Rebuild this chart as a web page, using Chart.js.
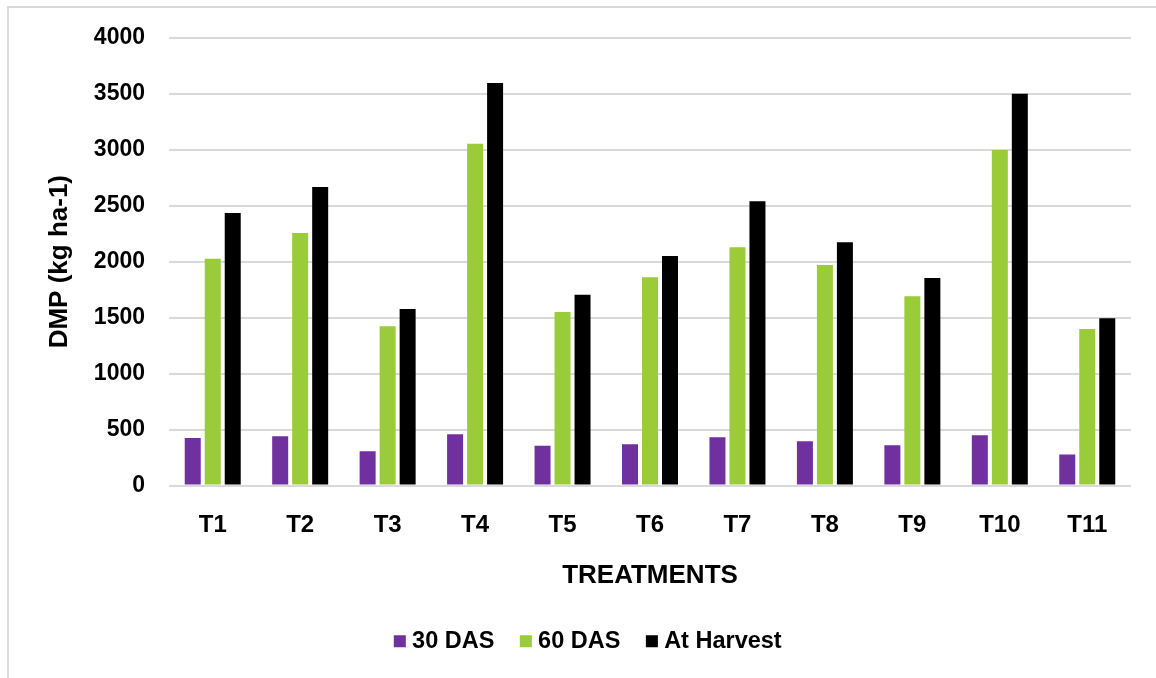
<!DOCTYPE html>
<html><head><meta charset="utf-8">
<script src="https://cdn.jsdelivr.net/npm/chart.js@4.4.1/dist/chart.umd.min.js"></script>
<style>
html,body{margin:0;padding:0;background:#fff;overflow:hidden;}
#frame{position:absolute;left:7px;top:6px;width:1200px;height:720px;border:2px solid #d9d9d9;box-sizing:border-box;}
#wrap{position:absolute;left:0;top:0;width:1156px;height:678px;}
</style></head>
<body>
<div id="frame"></div>
<div id="wrap"><canvas id="c" width="1156" height="678"></canvas></div>
<script>
const categories = ['T1','T2','T3','T4','T5','T6','T7','T8','T9','T10','T11'];
const das30 = [425, 440, 305, 458, 356, 368, 431, 395, 359, 449, 278];
const das60 = [2025, 2256, 1423, 3054, 1551, 1861, 2129, 1971, 1691, 2997, 1399];
const harvest = [2435, 2667, 1578, 3596, 1705, 2051, 2539, 2173, 1854, 3500, 1495];
const yTicks = [0, 500, 1000, 1500, 2000, 2500, 3000, 3500, 4000];

const FONT = 'Liberation Sans, Arial, sans-serif';
const legendShift = {
  id: 'legendShift',
  beforeDraw(chart) {
    const lg = chart.legend;
    if (lg && !lg._shifted) { lg.left += 20; lg.right += 20; lg._shifted = true; }
  }
};
new Chart(document.getElementById('c'), {
  type: 'bar',
  data: {
    labels: categories,
    datasets: [
      {label: '30 DAS', data: das30, backgroundColor: '#7030a0'},
      {label: '60 DAS', data: das60, backgroundColor: '#9acb38'},
      {label: 'At Harvest', data: harvest, backgroundColor: '#000000'}
    ]
  },
  plugins: [legendShift],
  options: {
    responsive: false,
    animation: false,
    devicePixelRatio: 1,
    layout: {padding: {left: 10, top: 36, right: 25, bottom: 15}},
    datasets: {bar: {categoryPercentage: 0.686, barPercentage: 0.8}},
    plugins: {
      tooltip: {enabled: false},
      legend: {
        position: 'bottom',
        labels: {
          font: {family: FONT, size: 23.5, weight: 'bold'},
          color: '#000',
          usePointStyle: true, pointStyle: 'rect',
          boxWidth: 1, boxHeight: 12, padding: 31
        }
      }
    },
    scales: {
      x: {
        grid: {display: false},
        border: {display: false},
        ticks: {font: {family: FONT, size: 24, weight: 'bold'}, color: '#000', padding: 17},
        title: {display: true, text: 'TREATMENTS', font: {family: FONT, size: 26, weight: 'bold'}, color: '#000', padding: {top: 10, bottom: 7}},
        afterFit: s => { s.height = 113; }
      },
      y: {
        min: 0, max: 4000,
        afterBuildTicks: s => { s.ticks = yTicks.map(v => ({value: v})); },
        grid: {color: '#d9d9d9', lineWidth: 2, drawTicks: false},
        border: {display: false},
        ticks: {font: {family: FONT, size: 23, weight: 'bold'}, color: '#000', padding: 24, callback: v => String(v)},
        title: {display: true, text: 'DMP (kg ha-1)', font: {family: FONT, size: 26, weight: 'bold'}, color: '#000', padding: {top: 34, bottom: 0}},
        afterFit: s => { s.width = 159; }
      }
    }
  }
});
</script>
</body></html>
